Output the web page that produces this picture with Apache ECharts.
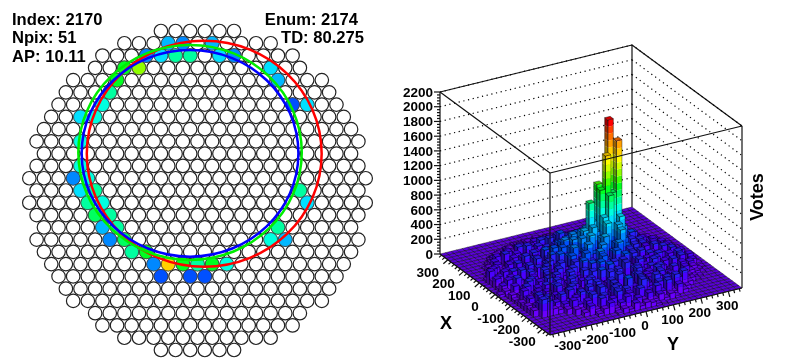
<!DOCTYPE html>
<html>
<head>
<meta charset="utf-8">
<style>
  html, body { margin: 0; background: #fff; }
  #main { width: 788px; height: 364px; }
</style>
<script src="https://cdn.jsdelivr.net/npm/echarts@6/dist/echarts.min.js"></script>
</head>
<body>
<div id="main"></div>
<script>
// left panel: photomultiplier count per row, top to bottom
const rowCounts = [6, 11, 14, 15, 18, 19, 20, 21, 22, 23, 22, 23, 24, 23, 24, 23, 22, 23, 22, 21, 20, 19, 18, 15, 14, 11, 6];

// fired pixels: row, offset from the row centre in pitches, palette level
const hitRow =    [1, 1, 1, 2, 2, 2, 2, 2, 2, 3, 3, 3, 4, 4, 5, 6, 6, 6, 7, 7, 9, 11, 12, 12, 13, 13, 13, 14, 14, 14, 15, 15, 16, 16, 16, 17, 17, 17, 17, 18, 18, 19, 19, 19, 19, 19, 19, 20, 20, 20];
const hitOffset = [-2, -1, 1, -3.5, -2.5, -1.5, -0.5, 1.5, 2.5, -5, -4, 5, -5.5, 5.5, -6, -6.5, 6.5, 7.5, -8, -7, -8, -8, -8.5, -7.5, -8, -7, 7, -7.5, -6.5, 7.5, -7, -6, -6.5, -5.5, 5.5, -6, -5, 5, 6, -4.5, -3.5, -3, -2, -1, 0, 1, 2, -2.5, -0.5, 0.5];
const hitLevel =  [5, 4, 5, 4, 6, 8, 8, 6, 4, 10, 12, 6, 10, 5, 8, 7, 3, 6, 6, 7, 7, 7, 4, 7, 6, 8, 8, 8, 7, 6, 9, 8, 5, 8, 8, 4, 9, 7, 5, 8, 10, 4, 15, 10, 8, 10, 7, 3, 3, 3];

// fitted rings, in pitches from the centre and in rows
const ringNames = ["red", "#00ee00", "blue"];
const ringX =  [0.46, -0.51, -0.51];
const ringY =  [10.01, 9.9, 9.97];
const ringRx = [8.03, 7.64, 7.41];
const ringRy = [9.21, 8.76, 8.42];

const zTicks = [0, 200, 400, 600, 800, 1000, 1200, 1400, 1600, 1800, 2000, 2200];
const xTicks = [-300, -200, -100, 0, 100, 200, 300];
const yTicks = [-300, -200, -100, 0, 100, 200, 300];

// right panel: votes per 20 x 20 bin, one row per x bin from x = -350, columns from y = -350
const votes = [
  [0,0,0,0,0,0,0,0,0,0,0,0,0,0,0,0,0,0,0,0,0,0,0,0,0,0,0,0,0,0,0,0,0,0,0],
  [0,0,0,0,0,0,0,0,0,0,0,0,0,30,70,40,110,50,80,60,30,20,0,0,0,0,0,0,0,0,0,0,0,0,0],
  [0,0,0,0,0,0,0,0,0,0,40,90,150,60,120,180,70,130,90,160,60,110,40,80,30,0,0,0,0,0,0,0,0,0,0],
  [0,0,0,0,0,0,0,0,60,130,70,200,90,160,240,110,180,80,210,130,70,190,100,230,60,140,50,0,0,0,0,0,0,0,0],
  [0,0,0,0,0,0,0,90,60,170,240,100,190,80,260,130,210,90,170,280,120,70,200,150,90,240,70,50,0,0,0,0,0,0,0],
  [0,0,0,0,0,0,80,180,110,60,220,140,270,90,160,230,110,300,170,80,210,130,260,100,190,70,150,220,60,0,0,0,0,0,0],
  [0,0,250,210,90,60,120,80,170,230,110,70,130,200,100,240,130,90,180,110,220,90,150,190,80,140,100,60,90,60,20,0,0,0,0],
  [0,90,170,210,90,130,220,100,70,150,100,230,90,190,100,250,150,80,200,110,240,90,170,80,210,100,140,70,110,70,40,20,0,0,0],
  [0,60,110,90,190,70,140,100,210,80,160,120,80,230,110,180,90,260,130,80,210,110,170,90,230,70,120,190,70,150,80,50,20,0,0],
  [0,90,70,200,100,60,150,100,70,210,120,80,240,80,170,130,280,100,190,140,90,240,80,160,100,210,80,120,90,180,60,90,30,0,0],
  [0,50,140,90,70,180,90,220,70,130,190,90,70,220,110,290,140,90,250,110,70,210,130,90,190,70,150,80,210,80,50,120,30,10,0],
  [0,70,110,70,170,90,60,200,110,80,230,100,170,80,260,120,90,300,150,100,270,90,190,110,80,230,90,170,70,130,190,60,100,30,0],
  [0,40,180,80,110,70,190,90,220,70,140,200,90,260,110,170,320,90,210,120,280,100,70,230,140,90,200,70,140,90,210,60,140,20,0],
  [0,40,90,190,20,140,50,230,40,160,70,240,110,40,200,290,80,350,150,240,60,310,110,200,40,180,90,210,40,170,50,180,50,30,0],
  [0,80,30,130,210,40,170,60,20,210,100,40,250,130,310,60,220,380,250,110,340,190,60,250,110,40,200,70,170,40,200,90,30,10,0],
  [0,20,150,50,90,190,30,130,200,50,240,130,50,280,170,360,240,90,420,200,300,400,160,270,90,220,50,160,60,210,40,130,70,20,0],
  [40,70,30,210,40,120,170,40,230,90,30,270,160,330,80,250,430,290,170,480,250,360,520,290,70,190,110,30,220,90,170,30,90,10,0],
  [10,110,170,40,130,60,210,80,30,230,130,200,60,300,390,210,320,500,250,430,610,310,560,360,130,240,50,180,70,160,40,140,30,0,0],
  [0,40,80,160,30,220,50,150,200,40,250,90,310,170,360,260,450,330,560,390,660,940,480,620,210,280,90,190,40,170,90,30,60,20,0],
  [0,140,40,20,190,80,30,220,110,60,190,290,130,350,230,420,310,500,860,450,1000,1450,930,1620,440,260,140,210,70,140,30,110,30,0,0],
  [10,80,120,170,40,150,70,180,40,240,120,210,330,110,400,260,340,460,380,560,1050,520,1890,580,390,220,290,90,180,60,130,50,10,0,0],
  [0,180,30,90,140,20,200,100,50,210,90,290,150,260,340,170,410,290,430,350,530,420,620,380,320,190,110,240,60,120,30,70,20,0,0],
  [0,30,160,60,20,170,70,140,230,80,170,110,240,130,300,210,250,340,260,410,300,360,280,420,200,270,90,160,100,50,90,20,0,0,0],
  [0,0,60,130,70,30,140,60,180,40,210,90,190,60,250,150,290,190,340,230,180,280,210,150,240,80,190,60,120,30,60,10,0,0,0],
  [0,0,10,70,120,40,100,160,30,150,70,170,110,200,80,230,120,250,150,200,260,110,190,90,150,120,50,110,30,70,10,0,0,0,0],
  [0,0,0,70,130,50,200,110,170,90,240,110,200,90,270,160,300,120,250,180,230,130,260,100,170,70,190,80,110,40,0,0,0,0,0],
  [0,0,0,20,90,150,60,180,100,210,70,170,120,230,100,190,240,90,200,140,80,210,120,150,90,130,60,100,30,0,0,0,0,0,0],
  [0,0,0,0,30,100,60,130,80,50,170,90,140,60,190,110,60,170,90,130,170,70,110,60,120,50,70,20,0,0,0,0,0,0,0],
  [0,0,0,0,0,40,90,50,110,70,120,40,100,150,70,110,140,60,120,80,50,130,70,90,40,60,20,0,0,0,0,0,0,0,0],
  [0,0,0,0,0,0,20,60,40,90,50,100,70,40,110,60,90,50,100,70,90,40,60,30,20,0,0,0,0,0,0,0,0,0,0],
  [0,0,0,0,0,0,0,0,30,50,30,70,40,80,50,70,40,80,50,30,60,30,20,0,0,0,0,0,0,0,0,0,0,0,0],
  [0,0,0,0,0,0,0,0,0,0,20,40,30,50,30,60,30,40,20,0,0,0,0,0,0,0,0,0,0,0,0,0,0,0,0],
  [0,0,0,0,0,0,0,0,0,0,0,0,0,0,0,0,0,0,0,0,0,0,0,0,0,0,0,0,0,0,0,0,0,0,0],
  [0,0,0,0,0,0,0,0,0,0,0,0,0,0,0,0,0,0,0,0,0,0,0,0,0,0,0,0,0,0,0,0,0,0,0],
  [0,0,0,0,0,0,0,0,0,0,0,0,0,0,0,0,0,0,0,0,0,0,0,0,0,0,0,0,0,0,0,0,0,0,0]
];

const PALETTE = ["#6a00ff", "#4a00ff", "#2a20ff", "#0050ff", "#0088ff", "#00b8ff", "#00e0ff", "#00ffe0", "#00ffa0", "#00ff60",
  "#00ff20", "#40ff00", "#90ff00", "#d0ff00", "#ffff00", "#ffd000", "#ffa000", "#ff7000", "#ff4000", "#ff0000"];
const BAND = 94.5, BIN = 20, EDGE = 350, ZMAX = 2200;
const FONT = '"Liberation Sans", Arial, sans-serif';
const INK = "#111";

function shade(hex, f) {
  const n = parseInt(hex.slice(1), 16);
  return `rgb(${Math.round((n >> 16) * f)},${Math.round(((n >> 8) & 255) * f)},${Math.round((n & 255) * f)})`;
}

// oblique view of the box onto the unit square of the hidden lego axes
function project(x, y, z) {
  const s = (x + EDGE) / (2 * EDGE), t = (y + EDGE) / (2 * EDGE);
  return [(110 * (1 - s) + 192 * t) / 302, (81 * s + 47 * t + (z / ZMAX) * 162) / 290];
}

const line = (a, b, style) => ({ type: "line", shape: { x1: a[0], y1: a[1], x2: b[0], y2: b[1] }, style, silent: true });
const text = (str, x, y, size, extra) => ({
  type: "text", silent: true,
  style: Object.assign({ text: str, x, y, fill: "#000", font: `bold ${size}px ${FONT}`, textAlign: "center", textVerticalAlign: "middle" }, extra),
});

function renderBackWalls(params, api) {
  const c = (x, y, z) => api.coord(project(x, y, z));
  const solid = { stroke: INK, lineWidth: 1.2 };
  const dots = { stroke: "#000", lineWidth: 1.2, lineDash: [1.2, 3.6] };
  const kids = [];
  zTicks.slice(1).forEach((z) => {
    kids.push(line(c(EDGE, -EDGE, z), c(EDGE, EDGE, z), dots));
    kids.push(line(c(EDGE, EDGE, z), c(-EDGE, EDGE, z), dots));
  });
  kids.push(line(c(EDGE, -EDGE, 0), c(EDGE, -EDGE, ZMAX), solid));
  kids.push(line(c(EDGE, -EDGE, ZMAX), c(EDGE, EDGE, ZMAX), solid));
  kids.push(line(c(EDGE, EDGE, ZMAX), c(-EDGE, EDGE, ZMAX), solid));
  kids.push(line(c(EDGE, EDGE, 0), c(EDGE, EDGE, ZMAX), solid));
  return { type: "group", children: kids, silent: true };
}

function renderBar(params, api) {
  const ix = api.value(0), iy = api.value(1), z = api.value(2);
  const x0 = -EDGE + ix * BIN, x1 = x0 + BIN, y0 = -EDGE + iy * BIN, y1 = y0 + BIN;
  const c = (x, y, h) => api.coord(project(x, y, h));
  const poly = (points, style) => ({ type: "polygon", shape: { points }, style, silent: true });
  const kids = [];
  const topLevel = Math.min(Math.floor(z / BAND), PALETTE.length - 1);
  for (let k = 0; k <= topLevel && z > 0; k++) {
    const a = k * BAND, b = Math.min((k + 1) * BAND, z);
    if (b <= a) continue;
    kids.push(poly([c(x0, y0, a), c(x0, y1, a), c(x0, y1, b), c(x0, y0, b)], { fill: PALETTE[k] }));
    kids.push(poly([c(x0, y0, a), c(x1, y0, a), c(x1, y0, b), c(x0, y0, b)], { fill: shade(PALETTE[k], 0.6) }));
  }
  const edge = { fill: "none", stroke: "#000", lineWidth: 0.4 };
  if (z > 0) {
    kids.push(poly([c(x0, y0, 0), c(x0, y1, 0), c(x0, y1, z), c(x0, y0, z)], edge));
    kids.push(poly([c(x0, y0, 0), c(x1, y0, 0), c(x1, y0, z), c(x0, y0, z)], edge));
  }
  kids.push(poly([c(x0, y0, z), c(x0, y1, z), c(x1, y1, z), c(x1, y0, z)],
    { fill: shade(PALETTE[topLevel], 0.85), stroke: "#000", lineWidth: 0.4 }));
  return { type: "group", children: kids, silent: true };
}

function renderFrontAndLabels(params, api) {
  const c = (x, y, z) => api.coord(project(x, y, z));
  const solid = { stroke: INK, lineWidth: 1.2 };
  const kids = [
    line(c(EDGE, -EDGE, ZMAX), c(-EDGE, -EDGE, ZMAX), solid),
    line(c(-EDGE, -EDGE, ZMAX), c(-EDGE, EDGE, ZMAX), solid),
    line(c(-EDGE, -EDGE, 0), c(-EDGE, -EDGE, ZMAX), solid),
    line(c(-EDGE, EDGE, 0), c(-EDGE, EDGE, ZMAX), solid),
    line(c(EDGE, -EDGE, 0), c(-EDGE, -EDGE, 0), solid),
    line(c(-EDGE, -EDGE, 0), c(-EDGE, EDGE, 0), solid),
  ];
  for (let z = 0; z <= ZMAX; z += 40) {
    const p = c(EDGE, -EDGE, z), len = z % 200 === 0 ? 6 : 3;
    kids.push(line(p, [p[0] - len, p[1]], solid));
  }
  for (let v = -340; v <= 340; v += 20) {
    const major = v % 100 === 0, len = major ? 1 : 0.55;
    const px = c(v, -EDGE, 0), py = c(-EDGE, v, 0);
    kids.push(line(px, [px[0] - 4.5 * len, px[1] + 4 * len], solid));
    kids.push(line(py, [py[0] + 1.5 * len, py[1] + 5.5 * len], solid));
  }
  zTicks.forEach((z) => {
    const p = c(EDGE, -EDGE, z);
    kids.push(text(String(z), p[0] - 7, p[1] + 1, 13.5, { textAlign: "right" }));
  });
  xTicks.forEach((v) => {
    const p = c(v, -EDGE, 0);
    kids.push(text(String(v), p[0] - 20, p[1] + 13, 13.5));
  });
  yTicks.forEach((v) => {
    const p = c(-EDGE, v, 0);
    kids.push(text(String(v), p[0] + (v < 0 ? 4 : -1), p[1] + 15, 13.5));
  });
  return { type: "group", children: kids, silent: true };
}

function renderRing(params, api) {
  const centre = api.coord([api.value(0), api.value(1)]);
  const size = api.size([api.value(2), api.value(3)]);
  return {
    type: "ellipse", silent: true,
    shape: { cx: centre[0], cy: centre[1], rx: size[0], ry: size[1] },
    style: { fill: "none", stroke: ringNames[params.dataIndex], lineWidth: 2.5 },
  };
}

const pmtData = [];
rowCounts.forEach((n, row) => {
  for (let i = 0; i < n; i++) pmtData.push([i - (n - 1) / 2, row]);
});
const hitData = hitRow.map((row, i) => [hitOffset[i], row, hitLevel[i]]);
const ringData = ringNames.map((_, i) => [ringX[i], ringY[i], ringRx[i], ringRy[i]]);

// painter's order: the corner farthest from the viewer first
const barData = [];
for (let ix = votes.length - 1; ix >= 0; ix--) {
  for (let iy = votes[ix].length - 1; iy >= 0; iy--) barData.push([ix, iy, votes[ix][iy]]);
}

const hiddenAxis = (extra) => Object.assign({ type: "value", show: false, scale: true }, extra);

const chart = echarts.init(document.getElementById("main"), null, { renderer: "canvas" });
chart.setOption({
  animation: false,
  backgroundColor: "#fff",
  grid: [
    { left: 22, top: 31, width: 351, height: 319 },
    { left: 440, top: 45, width: 302, height: 290 },
  ],
  xAxis: [
    hiddenAxis({ gridIndex: 0, min: -12, max: 12 }),
    hiddenAxis({ gridIndex: 1, min: 0, max: 1 }),
  ],
  yAxis: [
    hiddenAxis({ gridIndex: 0, min: 0, max: 26, inverse: true }),
    hiddenAxis({ gridIndex: 1, min: 0, max: 1 }),
  ],
  series: [
    {
      type: "scatter", xAxisIndex: 0, yAxisIndex: 0, data: pmtData, symbolSize: 13.5, clip: false, silent: true, z: 2,
      itemStyle: { color: "#fff", borderColor: "#222", borderWidth: 1.2, opacity: 1 },
    },
    {
      type: "scatter", xAxisIndex: 0, yAxisIndex: 0, data: hitData, symbolSize: 13.8, clip: false, silent: true, z: 3,
      itemStyle: { color: (p) => PALETTE[p.value[2]], borderColor: "#444", borderWidth: 0.6, opacity: 1 },
    },
    { type: "custom", xAxisIndex: 0, yAxisIndex: 0, data: ringData, renderItem: renderRing, clip: false, silent: true, z: 4 },
    { type: "custom", xAxisIndex: 1, yAxisIndex: 1, data: [[0, 0]], renderItem: renderBackWalls, clip: false, silent: true, z: 2 },
    { type: "custom", xAxisIndex: 1, yAxisIndex: 1, data: barData, renderItem: renderBar, clip: false, silent: true, z: 3, progressive: 0 },
    { type: "custom", xAxisIndex: 1, yAxisIndex: 1, data: [[0, 0]], renderItem: renderFrontAndLabels, clip: false, silent: true, z: 4 },
  ],
  graphic: [
    text("Index: 2170", 12, 20, 16.6, { textAlign: "left" }),
    text("Npix: 51", 12, 38, 16.6, { textAlign: "left" }),
    text("AP: 10.11", 12, 57, 16.6, { textAlign: "left" }),
    text("Enum: 2174", 358, 20, 16.6, { textAlign: "right" }),
    text("TD: 80.275", 364, 38, 16.6, { textAlign: "right" }),
    text("X", 446, 324, 18),
    text("Y", 673, 345, 18),
    { type: "text", silent: true, x: 758, y: 197, rotation: Math.PI / 2,
      style: { text: "Votes", fill: "#000", font: `bold 18px ${FONT}`, textAlign: "center", textVerticalAlign: "middle" } },
  ],
});
</script>
</body>
</html>
